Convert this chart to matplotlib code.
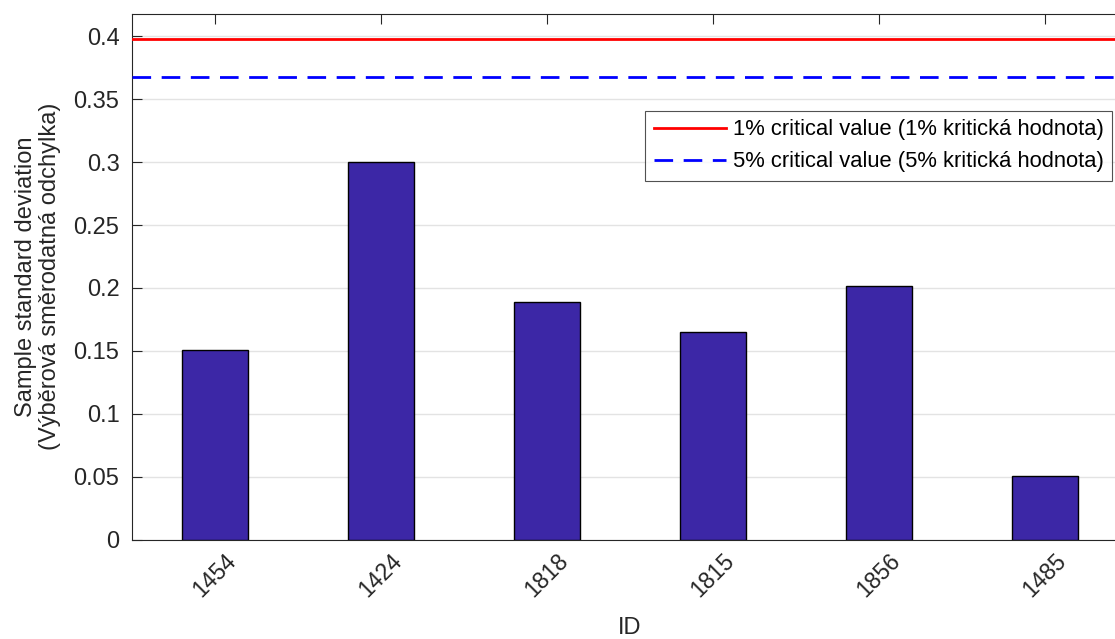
import matplotlib
matplotlib.use("Agg")
import matplotlib.pyplot as plt
import numpy as np

plt.rcParams['font.family'] = ['Liberation Sans', 'DejaVu Sans']

ids = ['1454', '1424', '1818', '1815', '1856', '1485']
std_values = [0.1508, 0.3, 0.1892, 0.1651, 0.2019, 0.0502]
crit_1pct = 0.3976
crit_5pct = 0.3674

fig = plt.figure(figsize=(11.15, 6.39), dpi=100)
# right edge of the axes runs past the figure border
ax = fig.add_axes([132 / 1115, 1 - 539.5 / 639, (1128 - 132) / 1115, (539.5 - 13.7) / 639])

x = np.arange(1, len(ids) + 1)
ax.bar(x, std_values, width=0.4, color='#3c27a6', edgecolor='black', linewidth=1.0, zorder=3)
ax.axhline(crit_1pct, color='#ff0000', linewidth=2, label='1% critical value (1% kritická hodnota)', zorder=4)
ax.axhline(crit_5pct, color='#0000ff', linewidth=2, linestyle=(0, (6.7, 3.8)),
           label='5% critical value (5% kritická hodnota)', zorder=4)

ax.set_xlim(0.5, 6.5)
ax.set_ylim(0, 0.418)
ax.set_xticks(x)
ax.set_xticklabels(ids, rotation=45, fontsize=16.5, color='#262626')
ax.set_yticks(np.arange(0, 0.41, 0.05))
ax.set_yticklabels(['0', '0.05', '0.1', '0.15', '0.2', '0.25', '0.3', '0.35', '0.4'], fontsize=17, color='#262626')
ax.tick_params(direction='in', top=True, right=False, length=7, width=0.8, color='#262626', pad=9)
ax.tick_params(axis='x', pad=7)

ax.grid(axis='y', color='#e3e3e3', linewidth=1, zorder=0)
for side in ['left', 'bottom', 'top']:
    ax.spines[side].set_color('#262626')
    ax.spines[side].set_linewidth(0.8)
ax.spines['right'].set_visible(False)

ax.set_xlabel('ID', fontsize=17, color='#262626', labelpad=11)
ax.set_ylabel('Sample standard deviation\n(Výběrová směrodatná odchylka)', fontsize=17,
              color='#262626', linespacing=1.1, labelpad=9)

leg = ax.legend(loc='upper left', bbox_to_anchor=((645 - 132) / 996, 1 - (110.7 - 13.7) / 525.8),
                fontsize=15.8, frameon=True, fancybox=False, edgecolor='#262626',
                handlelength=3.3, handletextpad=0.3, borderpad=0.4, labelspacing=0.5, borderaxespad=0)
leg.get_frame().set_linewidth(0.8)

fig.savefig('out.png', dpi=100)
